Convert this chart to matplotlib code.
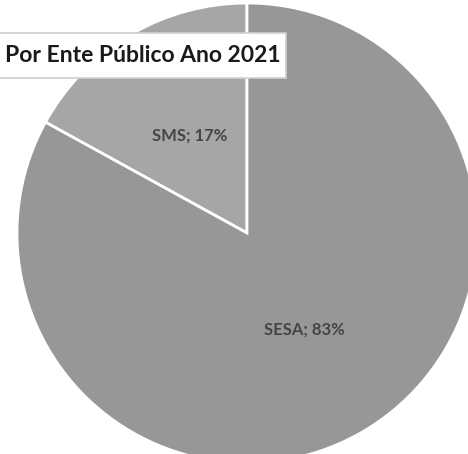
import matplotlib
matplotlib.use("Agg")
import matplotlib.pyplot as plt
from matplotlib.patches import Rectangle

# data
labels = ["SMS", "SESA"]
shares = [17, 83]
colors = ["#a6a6a6", "#979797"]
title = "Por Ente Público Ano 2021"

W, H = 468, 454
fig = plt.figure(figsize=(W / 100, H / 100), dpi=100)
ax = fig.add_axes([0, 0, 1, 1])
ax.set_xlim(0, W)
ax.set_ylim(0, H)
ax.axis("off")

# pie is cropped by the figure edges, center given in pixel units
ax.pie(shares, colors=colors, startangle=90, counterclock=True,
       center=(247, H - 233), radius=230,
       labels=[f"{l}; {s}%" for l, s in zip(labels, shares)],
       labeldistance=0.49,
       textprops=dict(color="#454545", fontsize=12, family="Lato", weight="bold"),
       wedgeprops=dict(edgecolor="white", linewidth=2))
for t in ax.texts:
    t.set_ha("center")
    t.set_va("center")
ax.set_xlim(0, W)
ax.set_ylim(0, H)

# title box
box = Rectangle((-2, H - 78), 288, 45, facecolor="white", edgecolor="#d0d0d0",
                linewidth=1.2, zorder=5)
ax.add_patch(box)
ax.text(5, H - 56, title, fontsize=16.5, family="Lato", weight="bold",
        color="#1a1a1a", va="center", ha="left", zorder=6)

fig.savefig("out.png", dpi=100)
